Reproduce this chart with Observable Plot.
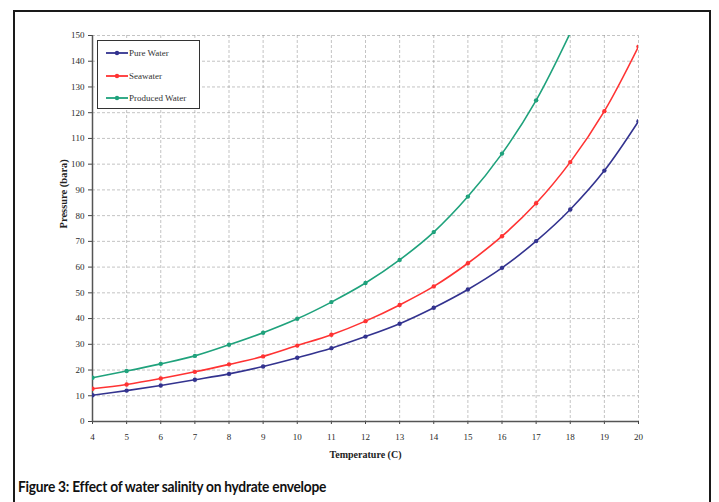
<!DOCTYPE html>
<html>
<head>
<meta charset="utf-8">
<script src="https://cdn.jsdelivr.net/npm/d3@7"></script>
<script src="https://cdn.jsdelivr.net/npm/@observablehq/plot@0.6"></script>
<style>
  html, body { margin: 0; padding: 0; background: #fff; }
  #wrap { position: relative; width: 719px; height: 502px; overflow: hidden; }
  #border { position: absolute; left: 13px; top: 10px; width: 698px; height: 520px; border: 2px solid #1a1a1a; box-sizing: border-box; }
  #chart { position: absolute; left: 0; top: 0; }
  #legend { position: absolute; left: 97px; top: 40px; width: 103px; height: 69px; border: 1.5px solid #333; box-sizing: border-box; background: #fff;
            font-family: "Liberation Serif", serif; font-size: 9px; color: #333; }
  .row { position: absolute; left: 8px; display: flex; align-items: center; }
  .row svg { margin-right: 1px; }
  #caption { position: absolute; left: 18px; top: 476px; font-family: "Lato", "Liberation Sans", sans-serif; font-weight: bold; font-size: 16px; color: #111; letter-spacing: -0.3px;
             transform: scaleX(0.86); transform-origin: left top; white-space: nowrap; }
</style>
</head>
<body>
<div id="wrap">
  <div id="border"></div>
  <div id="chart"></div>
  <div id="legend"></div>
  <div id="caption">Figure 3: Effect of water salinity on hydrate envelope</div>
</div>
<script>
const temperatures = [4,5,6,7,8,9,10,11,12,13,14,15,16,17,18,19,20];
const pureWater     = [10.2,12.0,14.0,16.2,18.5,21.4,24.8,28.5,33.0,38.0,44.2,51.3,59.7,70.1,82.4,97.5,116.7];
const seawater      = [12.7,14.4,16.7,19.3,22.2,25.3,29.5,33.7,39.0,45.3,52.5,61.5,72.0,84.8,100.8,120.6,145.7];
const producedWater = [17.0,19.6,22.4,25.5,29.8,34.5,39.9,46.4,53.8,62.8,73.6,87.4,104.1,124.8,151.0];
const seriesNames = ["Pure Water","Seawater","Produced Water"];
const seriesColors = ["#33338f","#ff3333","#1fa27c"];
const yTicks = d3.range(0,151,10);

const data = [];
[pureWater, seawater, producedWater].forEach((vals, i) => {
  vals.forEach((v, j) => data.push({series: seriesNames[i], t: temperatures[j], p: v}));
});

const chart = Plot.plot({
  width: 719, height: 470,
  marginLeft: 92, marginRight: 81, marginTop: 35, marginBottom: 49,
  style: {fontFamily: "'Liberation Serif', serif", fontSize: "9px", color: "#2a2a2a", background: "transparent"},
  x: {domain: [4,20], ticks: temperatures, tickFormat: d => d, label: null},
  y: {domain: [0,150], ticks: yTicks, tickFormat: d => d, label: null},
  color: {domain: seriesNames, range: seriesColors},
  marks: [
    Plot.gridY(yTicks, {stroke: "#8a8a8a", strokeOpacity: 0.5, strokeDasharray: "3,2"}),
    Plot.gridX(temperatures, {stroke: "#8a8a8a", strokeOpacity: 0.5, strokeDasharray: "3,2"}),
    Plot.axisY(yTicks, {tickSize: 4, tickPadding: 4, stroke: "#444"}),
    Plot.axisX(temperatures, {tickSize: 3, tickPadding: 9, stroke: "#444"}),
    Plot.ruleY([0], {stroke: "#555", strokeWidth: 1.5}),
    Plot.ruleX([4], {stroke: "#555", strokeWidth: 1.5}),
    Plot.line(data, {x: "t", y: "p", z: "series", stroke: "series", strokeWidth: 1.6, curve: "catmull-rom", clip: true}),
    Plot.dot(data, {x: "t", y: "p", fill: "series", r: 2.2, clip: true}),
    Plot.text(["Pressure (bara)"], {frameAnchor: "left", dx: -29, rotate: -90, fontWeight: "bold", fontSize: 10.5, fill: "#222"}),
    Plot.text(["Temperature (C)"], {frameAnchor: "bottom", dy: 36, fontWeight: "bold", fontSize: 10, fill: "#222"})
  ]
});
document.getElementById("chart").appendChild(chart);

const legend = document.getElementById("legend");
seriesNames.forEach((name, i) => {
  const row = document.createElement("div");
  row.className = "row";
  row.style.top = (7 + i * 22.5) + "px";
  row.innerHTML = `<svg width="22" height="8"><line x1="0" y1="4" x2="22" y2="4" stroke="${seriesColors[i]}" stroke-width="1.8"/><circle cx="11" cy="4" r="2.2" fill="${seriesColors[i]}"/></svg><span>${name}</span>`;
  legend.appendChild(row);
});
</script>
</body>
</html>
